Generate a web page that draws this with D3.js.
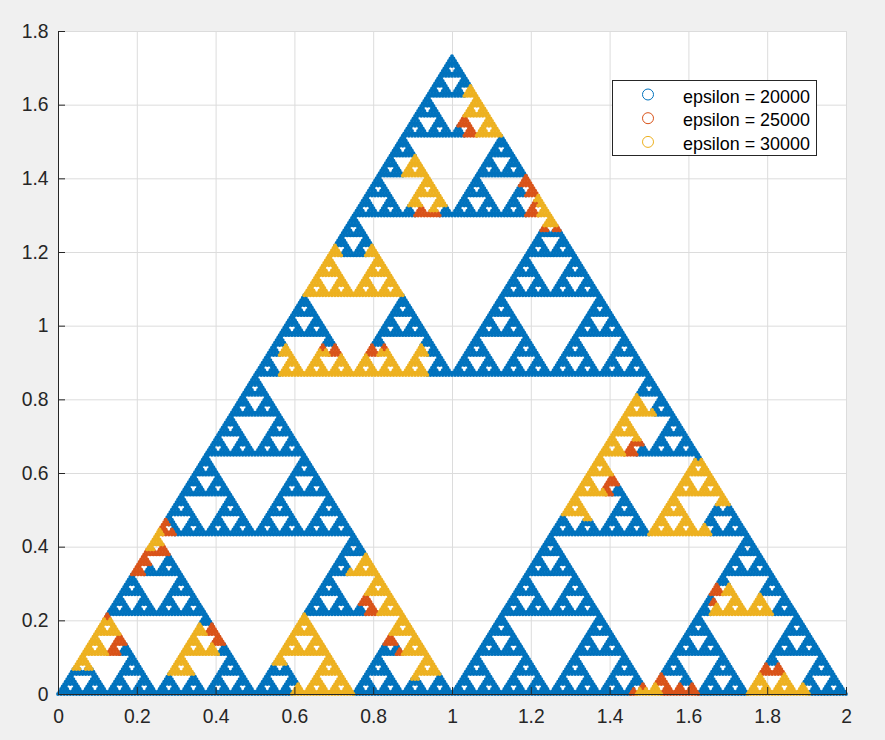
<!DOCTYPE html>
<html>
<head>
<meta charset="utf-8">
<script src="https://cdn.jsdelivr.net/npm/d3@7"></script>
<style>
  html, body { margin: 0; padding: 0; background: #f0f0f0; }
  svg { display: block; font-family: "Liberation Sans", Arial, sans-serif; }
  .axis path, .axis line { stroke: #262626; }
  .axis text { fill: #262626; font-size: 19.3px; }
  .grid path { stroke: none; }
  .grid line { stroke: #dcdcdc; }
</style>
</head>
<body>
<script>
var xTicks = [0, 0.2, 0.4, 0.6, 0.8, 1, 1.2, 1.4, 1.6, 1.8, 2];
var xTickLabels = ["0", "0.2", "0.4", "0.6", "0.8", "1", "1.2", "1.4", "1.6", "1.8", "2"];
var yTicks = [0, 0.2, 0.4, 0.6, 0.8, 1, 1.2, 1.4, 1.6, 1.8];
var yTickLabels = ["0", "0.2", "0.4", "0.6", "0.8", "1", "1.2", "1.4", "1.6", "1.8"];

var legendLabels = ["epsilon = 20000", "epsilon = 25000", "epsilon = 30000"];
var seriesColors = ["#0072BD", "#D95319", "#EDB120"];

// regions, as addresses into the gasket:
// each digit picks a sub triangle, 0 = lower left, 1 = lower right, 2 = top.
// the longest matching address decides which series a point belongs to
var regions20000 = ["", "1212222"];
var regions25000 = ["222101", "222102", "221122", "221121", "221110", "2211120", "2122202", "2122212",
  "220101", "2201101", "2201100", "200121", "2001202", "201020", "2010212",
  "122010", "1220120", "1220121", "120212", "1202101", "1202102",
  "000212", "000210", "0002222", "001212", "001221",
  "002200", "002202", "002221", "0022200", "0022201",
  "0200002", "0200001", "0200010", "0200020",
  "012102", "012101", "011202", "0112011",
  "112020", "1120021", "110010", "110011", "110001", "110002",
  "1011101", "1011112", "111020", "111021"];
var regions30000 = ["22212", "22211", "222211", "221112", "221111", "212222",
  "22012", "220102", "220112", "2201102", "22021",
  "2020", "2021", "202200", "202211",
  "20010", "20011", "200120", "20001", "200021", "20100", "20101", "201021", "20110", "201120",
  "12220", "1222100", "12200", "12202", "1220122", "12020", "12022", "120210", "12002", "1200122",
  "1212", "12100", "12101", "12102", "121122", "121100",
  "00022", "00020", "000022", "0000202", "0000212",
  "00102", "00120", "001220", "001210", "002220", "002222", "0200000",
  "0102", "01012", "01010", "01011", "010022", "010011",
  "01221", "0122011", "01212", "01211", "01122", "01121", "01112", "0111022",
  "11201", "112001", "112021", "11210", "110000", "11100", "11101", "111100",
  "1011110", "1011111"];

var margin = { top: 31, right: 39, bottom: 46, left: 58 },
  width = 885 - margin.left - margin.right,
  height = 740 - margin.top - margin.bottom;

var svg = d3.select("body").append("svg")
  .attr("width", 885)
  .attr("height", 740)
  .append("g")
  .attr("transform", "translate(" + margin.left + "," + margin.top + ")");

var x = d3.scaleLinear().domain([0, 2]).range([0, width]);
var y = d3.scaleLinear().domain([0, 1.8]).range([height, 0]);

svg.append("rect")
  .attr("width", width)
  .attr("height", height)
  .attr("fill", "#fff");

// grid
svg.append("g")
  .attr("class", "grid")
  .attr("transform", "translate(0," + height + ")")
  .call(d3.axisBottom(x).tickValues(xTicks).tickSize(-height).tickFormat(""));
svg.append("g")
  .attr("class", "grid")
  .call(d3.axisLeft(y).tickValues(yTicks).tickSize(-width).tickFormat(""));

// every region list gets its series number, longest address wins
var lookup = new Map();
[regions20000, regions25000, regions30000].forEach(function (list, i) {
  list.forEach(function (a) { lookup.set(a, i); });
});

function seriesOf(addr) {
  for (var n = addr.length; n >= 0; n--) {
    var s = lookup.get(addr.slice(0, n));
    if (s !== undefined) return s;
  }
  return 0;
}

var depth = 8;
var h = Math.sqrt(3) / 2;
var groups = [new Map(), new Map(), new Map()];

function walk(addr, px, py, size) {
  if (addr.length === depth) {
    var g = groups[seriesOf(addr)];
    [[px, py], [px + size, py], [px + size / 2, py + size * h]].forEach(function (p) {
      g.set(p[0].toFixed(5) + "_" + p[1].toFixed(5), p);
    });
    return;
  }
  var s = size / 2;
  walk(addr + "0", px, py, s);
  walk(addr + "1", px + s, py, s);
  walk(addr + "2", px + s / 2, py + s * h, s);
}
walk("", 0, 0, 2);

groups.forEach(function (g, i) {
  svg.append("g").attr("fill", seriesColors[i])
    .selectAll("circle").data(Array.from(g.values())).enter()
    .append("circle")
    .attr("cx", function (d) { return x(d[0]); })
    .attr("cy", function (d) { return y(d[1]); })
    .attr("r", 1.9);
});

// axes, ticks point inwards
var labelX = d3.axisBottom(x).tickValues(xTicks).tickSize(-7).tickPadding(15)
  .tickFormat(function (d, i) { return xTickLabels[i]; });
var labelY = d3.axisLeft(y).tickValues(yTicks).tickSize(-7).tickPadding(9.5)
  .tickFormat(function (d, i) { return yTickLabels[i]; });

svg.append("g")
  .attr("class", "axis")
  .attr("transform", "translate(0," + height + ")")
  .call(labelX);
svg.append("g")
  .attr("class", "axis")
  .call(labelY);
svg.selectAll(".axis .domain").attr("fill", "none");

// legend
var legend = svg.append("g")
  .attr("transform", "translate(" + (612.5 - margin.left) + "," + (80.5 - margin.top) + ")");

legend.append("rect")
  .attr("width", 204)
  .attr("height", 75)
  .attr("fill", "#fff")
  .attr("stroke", "#262626");

var row = legend.selectAll(".row").data(legendLabels).enter().append("g")
  .attr("class", "row")
  .attr("transform", function (d, i) { return "translate(0," + (14 + i * 23.7) + ")"; });

row.append("circle")
  .attr("cx", 35.5)
  .attr("r", 5.5)
  .attr("fill", "none")
  .attr("stroke", function (d, i) { return seriesColors[i]; })
  .attr("stroke-width", 1);

row.append("text")
  .attr("x", 70.5)
  .attr("dy", "0.45em")
  .attr("fill", "#000")
  .style("font-size", "17.9px")
  .text(function (d) { return d; });
</script>
</body>
</html>
